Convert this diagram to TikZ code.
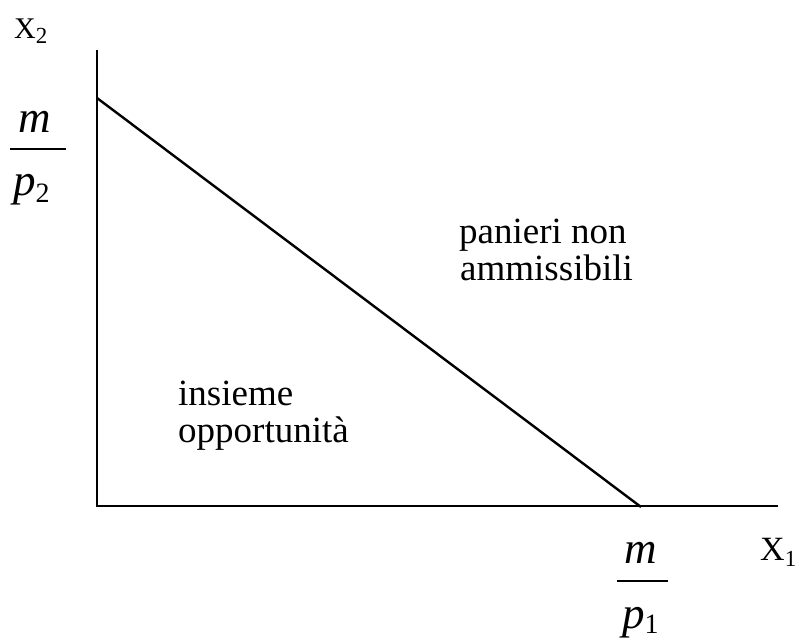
\documentclass[tikz,border=0pt]{standalone}
\usepackage{fontspec}
\setmainfont{Liberation Serif}
\begin{document}
\begin{tikzpicture}[x=1pt,y=-1pt,
  axisline/.style={line width=2.4pt, line cap=rect},
  budget/.style={line width=2.4pt},
  lbl/.style={anchor=base west, inner sep=0pt, font=\fontsize{37}{37}\selectfont},
  axlbl/.style={anchor=base west, inner sep=0pt},
  mathlbl/.style={anchor=base west, inner sep=0pt, font=\fontsize{45}{45}\selectfont\itshape},
  fracbar/.style={line width=2pt}]
\useasboundingbox (0,0) rectangle (800,642);
\coordinate (ytop) at (97,51);
\coordinate (O) at (97,506);
\coordinate (xend) at (777,506);
\coordinate (A) at (97,98);
\coordinate (B) at (641,507);
\draw[axisline] (ytop) -- (O) -- (xend);
\draw[budget] (A) -- (B);
% axis labels
\node[axlbl, font=\fontsize{30}{30}\selectfont] (x2) at (14,39) {X\raisebox{-5pt}{\fontsize{23}{23}\selectfont 2}};
\node[axlbl, font=\fontsize{34}{34}\selectfont] (x1) at (760,560) {X\raisebox{-6pt}{\fontsize{23}{23}\selectfont 1}};
% m/p2
\node[mathlbl] (m2) at (18,132) {m};
\coordinate (b2l) at (10,149);
\coordinate (b2r) at (66,149);
\draw[fracbar] (b2l) -- (b2r);
\node[mathlbl] (p2) at (13,195) {p\raisebox{-7pt}{\upshape\fontsize{28}{28}\selectfont 2}};
% m/p1
\node[mathlbl] (m1) at (624,563) {m};
\coordinate (b1l) at (617,581);
\coordinate (b1r) at (668,581);
\draw[fracbar] (b1l) -- (b1r);
\node[mathlbl] (p1) at (622,628) {p\raisebox{-5pt}{\upshape\fontsize{28}{28}\selectfont 1}};
% region labels
\node[lbl] (pan1) at (459,243) {panieri non};
\node[lbl] (pan2) at (460,280) {ammissibili};
\node[lbl] (ins1) at (178,405) {insieme};
\node[lbl] (ins2) at (178,442) {opportunità};
\end{tikzpicture}
\end{document}
